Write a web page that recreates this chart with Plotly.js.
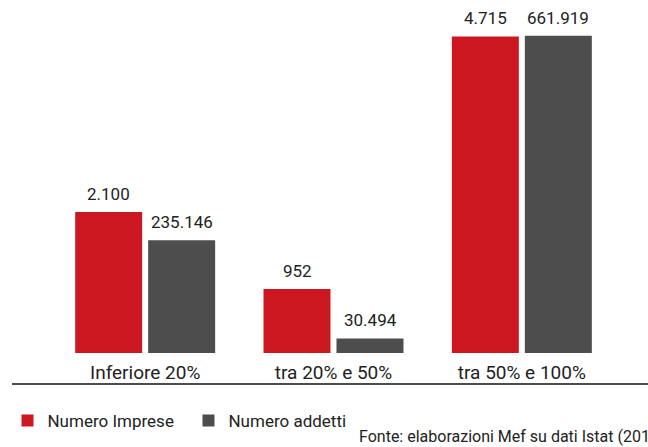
<!DOCTYPE html>
<html>
<head>
<meta charset="utf-8">
<script src="https://cdn.plot.ly/plotly-3.0.1.min.js"></script>
<style>html,body{margin:0;padding:0;background:#fff;overflow:hidden;}#chart{width:648px;height:447px;}</style>
</head>
<body>
<div id="chart"></div>
<script>
const categories = ['Inferiore 20%', 'tra 20% e 50%', 'tra 50% e 100%'];
const imprese = [2100, 952, 4715];
const addetti = [235146, 30494, 661919];
const seriesNames = ['Numero Imprese', 'Numero addetti'];
const sourceText = 'Fonte: elaborazioni Mef su dati Istat (2014)';

const RED = '#cd1720';
const GRAY = '#4d4d4d';
const FONT = 'Roboto, "DejaVu Sans", sans-serif';
const TXT = '#222';

const traces = [
  {
    type: 'bar', name: seriesNames[0], x: categories, y: imprese,
    yaxis: 'y', offsetgroup: '1', alignmentgroup: 'a',
    marker: {color: RED}, hoverinfo: 'none'
  },
  {
    type: 'bar', name: seriesNames[1], x: categories, y: addetti,
    yaxis: 'y2', offsetgroup: '2', alignmentgroup: 'a',
    marker: {color: GRAY}, hoverinfo: 'none'
  }
];

function fmt(v) {
  return String(v).replace(/\B(?=(\d{3})+(?!\d))/g, '.');
}

const valueLabels = [];
categories.forEach(function (c, i) {
  valueLabels.push({
    x: c, y: imprese[i], xref: 'x', yref: 'y', text: fmt(imprese[i]),
    xshift: -36.5, yshift: 6, yanchor: 'bottom', xanchor: 'center', showarrow: false,
    font: {family: FONT, size: 17, color: TXT}
  });
  valueLabels.push({
    x: c, y: addetti[i], xref: 'x', yref: 'y2', text: fmt(addetti[i]),
    xshift: 36.5, yshift: 6, yanchor: 'bottom', xanchor: 'center', showarrow: false,
    font: {family: FONT, size: 17, color: TXT}
  });
});

const layout = {
  width: 648, height: 447,
  margin: {l: 51, r: 32, t: 20, b: 94, autoexpand: false},
  paper_bgcolor: '#fff', plot_bgcolor: '#fff',
  font: {family: FONT, color: TXT},
  barmode: 'group', bargap: 0.225, bargroupgap: 0.082,
  showlegend: true,
  xaxis: {
    type: 'category', showline: false, showgrid: false, zeroline: false,
    ticks: '', tickfont: {family: FONT, size: 19, color: TXT},
    ticklabelstandoff: 6, fixedrange: true
  },
  yaxis: {range: [0, 4960], visible: false, fixedrange: true},
  yaxis2: {range: [0, 695000], overlaying: 'y', side: 'right', visible: false, fixedrange: true},
  legend: {
    orientation: 'h', x: -0.077, xanchor: 'left', y: -0.204, yanchor: 'middle',
    font: {family: FONT, size: 17, color: TXT},
    itemwidth: 30, entrywidth: 136, traceorder: 'normal'
  },
  shapes: [{
    type: 'line', xref: 'paper', yref: 'paper',
    x0: -0.069, x1: 1.06, y0: -0.093, y1: -0.093,
    line: {color: '#111', width: 1.5}
  }],
  annotations: valueLabels.concat([{
    text: sourceText, xref: 'paper', yref: 'paper',
    x: 0.541, xanchor: 'left', y: -0.25, yanchor: 'middle',
    showarrow: false, font: {family: FONT, size: 16, color: TXT}
  }])
};

Plotly.newPlot('chart', traces, layout, {staticPlot: true, displayModeBar: false});
</script>
</body>
</html>
